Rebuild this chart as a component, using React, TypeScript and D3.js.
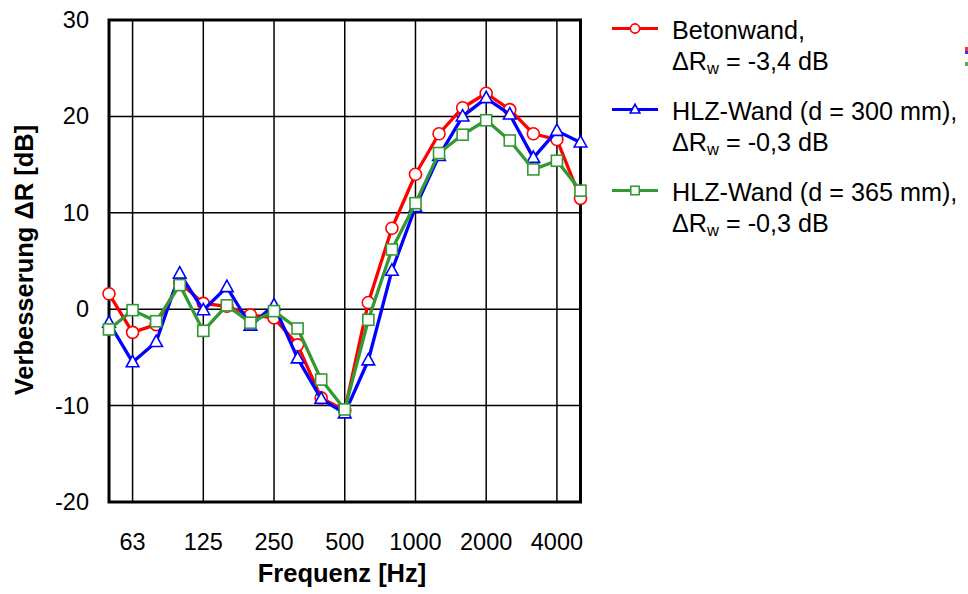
import { useEffect, useRef } from 'react'
import * as d3 from 'd3'

// Terzband-Mittenfrequenzen [Hz]
const freqs = [50, 63, 80, 100, 125, 160, 200, 250, 315, 400, 500, 630, 800, 1000, 1250, 1600, 2000, 2500, 3150, 4000, 5000]
const tickFreqs = [63, 125, 250, 500, 1000, 2000, 4000]
const yTicks = [-20, -10, 0, 10, 20, 30]

// Verbesserung ΔR [dB]
const betonwand = [1.6, -2.4, -1.6, 2.8, 0.6, 0.3, -0.6, -0.9, -3.7, -9.2, -10.5, 0.7, 8.4, 14.0, 18.2, 20.9, 22.4, 20.7, 18.2, 17.6, 11.5]
const hlz300 = [-1.4, -5.5, -3.4, 3.7, -0.1, 2.3, -1.7, 0.4, -5.1, -9.3, -10.8, -5.3, 4.0, 10.6, 15.9, 20.0, 21.9, 20.2, 15.7, 18.5, 17.3]
const hlz365 = [-2.1, -0.1, -1.25, 2.5, -2.25, 0.4, -1.4, -0.2, -2.0, -7.3, -10.4, -1.1, 6.2, 11.0, 16.2, 18.1, 19.6, 17.5, 14.5, 15.4, 12.3]

const series = [
  { name: 'Betonwand,', rw: '-3,4', values: betonwand, color: '#ff0000', marker: 'circle' },
  { name: 'HLZ-Wand (d = 300 mm),', rw: '-0,3', values: hlz300, color: '#0000ff', marker: 'triangle' },
  { name: 'HLZ-Wand (d = 365 mm),', rw: '-0,3', values: hlz365, color: '#339933', marker: 'square' },
]

const FONT = '"Liberation Sans", Arial, sans-serif'

export default function App() {
  const ref = useRef<SVGSVGElement>(null)

  useEffect(() => {
    if (!ref.current) return
    const svg = d3.select(ref.current)
    svg.selectAll('*').remove()

    const left = 109, right = 580.5, top = 20, bottom = 502

    const x = d3.scalePoint<number>().domain(freqs).range([left, right])
    const y = d3.scaleLinear().domain([-20, 30]).range([bottom, top])

    const g = svg.append('g')

    // Gitter
    g.selectAll('.hgrid')
      .data(yTicks)
      .enter()
      .append('line')
      .attr('x1', left).attr('x2', right)
      .attr('y1', d => y(d)).attr('y2', d => y(d))
      .attr('stroke', '#000').attr('stroke-width', 1.5)

    g.selectAll('.vgrid')
      .data(tickFreqs)
      .enter()
      .append('line')
      .attr('x1', d => x(d)!).attr('x2', d => x(d)!)
      .attr('y1', top).attr('y2', bottom)
      .attr('stroke', '#000').attr('stroke-width', 1.5)

    // Rahmen
    g.append('rect')
      .attr('x', left).attr('y', top)
      .attr('width', right - left).attr('height', bottom - top)
      .attr('fill', 'none').attr('stroke', '#000').attr('stroke-width', 3)

    // Achsenbeschriftung
    g.selectAll('.ytick')
      .data(yTicks)
      .enter()
      .append('text')
      .attr('x', 89).attr('y', d => y(d) + 8)
      .attr('text-anchor', 'end')
      .attr('font-family', FONT).attr('font-size', 23.5)
      .text(d => d)

    g.selectAll('.xtick')
      .data(tickFreqs)
      .enter()
      .append('text')
      .attr('x', d => x(d)!).attr('y', 550)
      .attr('text-anchor', 'middle')
      .attr('font-family', FONT).attr('font-size', 23.5)
      .text(d => d)

    g.append('text')
      .attr('x', 342).attr('y', 582)
      .attr('text-anchor', 'middle')
      .attr('font-family', FONT).attr('font-size', 25.5).attr('font-weight', 'bold')
      .text('Frequenz [Hz]')

    g.append('text')
      .attr('transform', `translate(33,260) rotate(-90)`)
      .attr('text-anchor', 'middle')
      .attr('font-family', FONT).attr('font-size', 25.5).attr('font-weight', 'bold')
      .text('Verbesserung ΔR [dB]')

    const drawMarker = (sel: d3.Selection<SVGGElement, unknown, null, undefined>, type: string, color: string, cx: number, cy: number, s: number) => {
      if (type === 'circle') {
        sel.append('circle').attr('cx', cx).attr('cy', cy).attr('r', s)
          .attr('fill', '#fff').attr('stroke', color).attr('stroke-width', 1.6)
      } else if (type === 'triangle') {
        const h = s * 1.9
        sel.append('path')
          .attr('d', `M${cx},${cy - h * 0.6}L${cx + s * 1.05},${cy + h * 0.4}L${cx - s * 1.05},${cy + h * 0.4}Z`)
          .attr('fill', '#fff').attr('stroke', color).attr('stroke-width', 1.6)
      } else {
        sel.append('rect').attr('x', cx - s * 0.92).attr('y', cy - s * 0.92)
          .attr('width', s * 1.84).attr('height', s * 1.84)
          .attr('fill', '#fff').attr('stroke', color).attr('stroke-width', 1.6)
      }
    }

    const line = d3.line<number>()
      .x((_, i) => x(freqs[i])!)
      .y(d => y(d))

    series.forEach(s => {
      const sg = g.append('g')
      sg.append('path')
        .datum(s.values)
        .attr('d', line)
        .attr('fill', 'none')
        .attr('stroke', s.color)
        .attr('stroke-width', 3.3)
        .attr('stroke-linejoin', 'round')
      s.values.forEach((v, i) => drawMarker(sg, s.marker, s.color, x(freqs[i])!, y(v), 6))
    })

    // Legende
    const legend = svg.append('g')
    series.forEach((s, i) => {
      const ly = 28.5 + i * 81
      const lg = legend.append('g')
      lg.append('line')
        .attr('x1', 612).attr('x2', 658)
        .attr('y1', ly).attr('y2', ly)
        .attr('stroke', s.color).attr('stroke-width', 3)
      drawMarker(lg, s.marker, s.color, 635, ly, 4.6)
      lg.append('text')
        .attr('x', 672).attr('y', ly + 10)
        .attr('font-family', FONT).attr('font-size', 25.2)
        .text(s.name)
      const t2 = lg.append('text')
        .attr('x', 672).attr('y', ly + 41)
        .attr('font-family', FONT).attr('font-size', 25.2)
      t2.append('tspan').text('ΔR')
      t2.append('tspan').attr('font-size', 16.5).attr('dy', 4).text('w')
      t2.append('tspan').attr('dy', -4).text(` = ${s.rw} dB`)
    })

    // abgeschnittene Reste am rechten Rand
    const edge = [
      { y0: 47, y1: 51, c: '#ff3333' },
      { y0: 51, y1: 54, c: '#3333ff' },
      { y0: 62, y1: 66, c: '#55aa55' },
    ]
    svg.selectAll('.edge')
      .data(edge)
      .enter()
      .append('rect')
      .attr('x', 965).attr('y', d => d.y0)
      .attr('width', 3).attr('height', d => d.y1 - d.y0)
      .attr('fill', d => d.c)
  }, [])

  return (
    <svg
      ref={ref}
      width={968}
      height={594}
      style={{ position: 'absolute', left: 0, top: 0, background: '#fff' }}
    />
  )
}
